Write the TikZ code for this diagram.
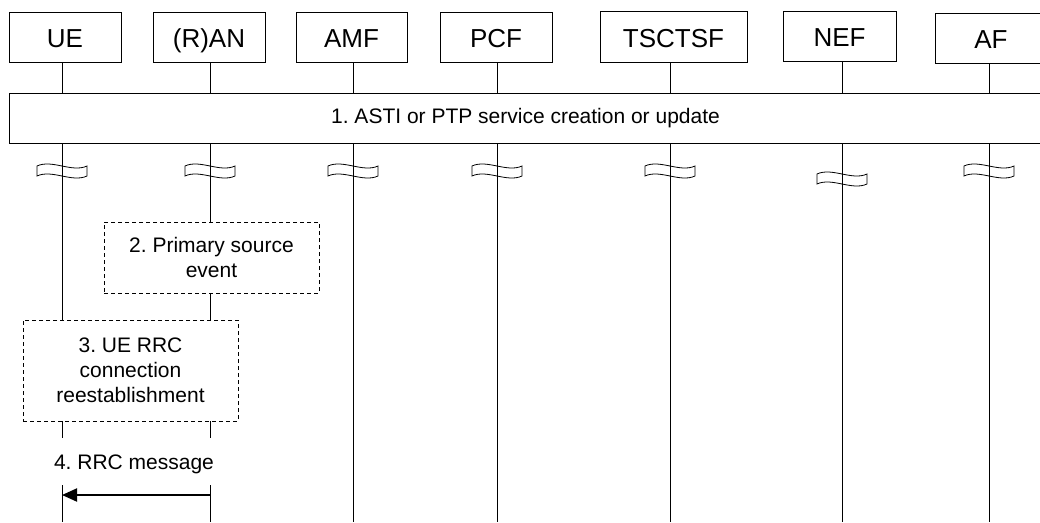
\documentclass[tikz,border=0pt]{standalone}
\usepackage{fontspec}
\setmainfont{Liberation Sans}
\usetikzlibrary{arrows.meta}
\frenchspacing
\newcommand\brksym[2]{%
  \draw[brk] (#1-25,#2) .. controls (#1-10,#2-7) and (#1+10,#2+7) .. (#1+25,#2)
    -- (#1+25,#2+10) .. controls (#1+10,#2+17) and (#1-10,#2+3) .. (#1-25,#2+10) -- cycle;}
\begin{document}
\begin{tikzpicture}[x=1pt,y=-1pt,line width=0.8pt,
  entity/.style={draw,minimum width=112pt,minimum height=50pt,inner sep=0pt,
    text height=21pt,text depth=0pt,font=\fontsize{26}{30}\selectfont},
  stepbox/.style={draw,inner sep=0pt,font=\fontsize{21}{25}\selectfont\frenchspacing,align=center},
  dbox/.style={draw,dash pattern=on 4pt off 3pt,inner sep=0pt,
    font=\fontsize{21}{25}\selectfont\frenchspacing,align=center},
  life/.style={line width=0.8pt},
  brk/.style={line width=0.8pt},
  msg/.style={line width=2pt,-{Triangle[length=15pt,width=13pt]}},
  lbl/.style={font=\fontsize{21}{25}\selectfont\frenchspacing,inner sep=0pt}]
\useasboundingbox (0,0) rectangle (1040,522);
\clip (0,0) rectangle (1040,522);

% entities
\node[entity] (ue)  at (65,37)    {UE};
\node[entity] (ran) at (209,37)   {(R)AN};
\node[entity,minimum width=111pt] (amf) at (351.5,37) {AMF};
\node[entity] (pcf) at (496,37)   {PCF};
\node[entity,minimum width=147pt,minimum height=51pt] (tsc) at (673.5,36.5) {TSCTSF};
\node[entity,minimum width=113pt] (nef) at (839.5,36) {NEF};
\node[entity] (af)  at (991,38)   {AF};

% lifeline x positions
\coordinate (xue)  at (62,0);
\coordinate (xran) at (210,0);
\coordinate (xamf) at (353,0);
\coordinate (xpcf) at (497,0);
\coordinate (xtsc) at (670,0);
\coordinate (xnef) at (842,0);
\coordinate (xaf)  at (989,0);
\coordinate (g1)  at (0,438);
\coordinate (g2)  at (0,485);
\coordinate (bot) at (0,522);
\coordinate (arr) at (0,495);

% step 1
\node[stepbox,minimum width=1033pt,minimum height=50pt] (s1) at (525.5,118)
  {1. ASTI or PTP service creation or update};

% step boxes 2 and 3
\node[dbox,minimum width=215pt,minimum height=71pt] (b2) at (211.5,257.5)
  {2. Primary source\\event};
\node[dbox,minimum width=215pt,minimum height=101pt] (b3) at (130.5,370.5)
  {3. UE RRC\\connection\\reestablishment};

% lifelines above step 1
\foreach \n/\x in {ue/xue,ran/xran,amf/xamf,pcf/xpcf,tsc/xtsc,nef/xnef,af/xaf}
  \draw[life] (\x|-\n.south) -- (\x|-s1.north);

% lifelines below step 1
\draw[life] (xue|-s1.south) -- (xue|-b3.north);
\draw[life] (xran|-s1.south) -- (xran|-b2.north);
\draw[life] (xran|-b2.south) -- (xran|-b3.north);
\foreach \x in {xamf,xpcf,xtsc,xnef,xaf}
  \draw[life] (\x|-s1.south) -- (\x|-bot);
\foreach \x in {xue,xran}{
  \draw[life] (\x|-b3.south) -- (\x|-g1);
  \draw[life] (\x|-g2) -- (\x|-bot);
}

% break symbols
\brksym{62}{166}
\brksym{210}{166}
\brksym{353}{166}
\brksym{497}{166}
\brksym{670}{166}
\brksym{842}{174}
\brksym{989}{166}

% message 4
\node[lbl] (l4) at (134,464) {4. RRC message};
\draw[msg] (xran|-arr) -- (xue|-arr);
\end{tikzpicture}
\end{document}
